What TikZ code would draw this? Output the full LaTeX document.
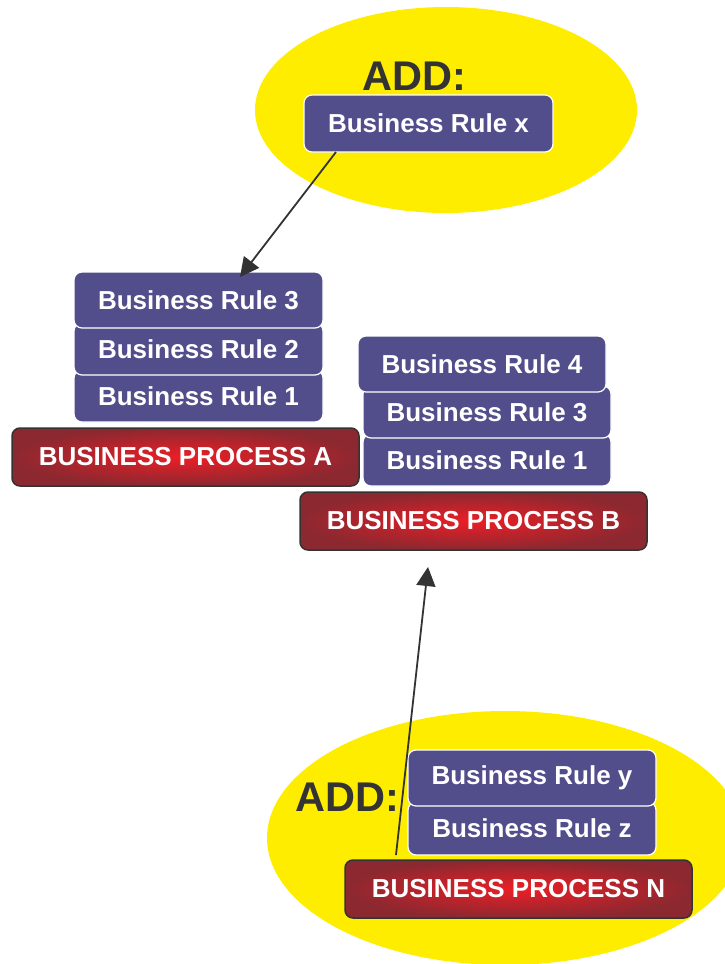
\documentclass[tikz,border=0pt]{standalone}
\usepackage{fontspec}
\setmainfont{Liberation Sans}
\usetikzlibrary{arrows.meta}
\definecolor{ruleblue}{RGB}{82,78,140}
\definecolor{addyellow}{RGB}{255,237,0}
\definecolor{procred}{RGB}{236,30,38}
\definecolor{procdark}{RGB}{140,40,48}
\definecolor{darkgray}{RGB}{51,51,51}
\tikzset{
  rulebox/.style={draw=white, line width=1.2pt, fill=ruleblue, rounded corners=8pt,
    text=white, font=\bfseries\fontsize{26}{28}\selectfont},
  procbox/.style={draw=darkgray, line width=1.5pt, rounded corners=8pt,
    inner color=procred, outer color=procdark,
    text=white, font=\bfseries\fontsize{26}{28}\selectfont},
  addlabel/.style={text=darkgray, font=\bfseries\fontsize{41.5}{44}\selectfont, inner sep=0pt},
  blob/.style={fill=addyellow, draw=none},
  conn/.style={draw=darkgray, line width=1.8pt, -{Triangle[length=19pt,width=19pt]}}
}
\newcommand{\rbox}[6]{% name, x1, y1, x2, y2, text
  \path[rulebox] (#2,#3) rectangle (#4,#5);
  \node[text=white, font=\bfseries\fontsize{26}{28}\selectfont, inner sep=0pt] (#1) at ({(#2+#4)/2},{(#3+#5)/2}) {#6};
}
\newcommand{\pbox}[6]{%
  \path[procbox] (#2,#3) rectangle (#4,#5);
  \node[text=white, font=\bfseries\fontsize{26}{28}\selectfont, inner sep=0pt] (#1) at ({(#2+#4)/2},{(#3+#5)/2}) {#6};
}
\begin{document}
\begin{tikzpicture}[x=1pt,y=-1pt]
\useasboundingbox (0,0) rectangle (725,964);
% yellow ellipses
\path[blob] (446,110) ellipse [x radius=191, y radius=103];
\begin{scope}
\clip (0,0) rectangle (725,964);
\path[blob] (505,838) ellipse [x radius=238, y radius=127];
\end{scope}

% top ADD
\node[addlabel] (addtop) at (414,76) {ADD:};
\rbox{brx}{304}{95}{553}{152}{Business Rule x}

% left stack
\rbox{la1}{74}{370}{323}{422}{Business Rule 1}
\rbox{la2}{74}{323}{323}{375}{Business Rule 2}
\rbox{la3}{74}{272}{323}{328}{Business Rule 3}
\pbox{pa}{12}{428}{359}{486}{BUSINESS PROCESS A}

% right stack
\rbox{rb1}{363}{434}{611}{486}{Business Rule 1}
\rbox{rb3}{363}{386}{611}{438}{Business Rule 3}
\rbox{rb4}{358}{336}{606}{392}{Business Rule 4}
\pbox{pb}{300}{492}{647}{550}{BUSINESS PROCESS B}

% bottom
\node[addlabel] (addbot) at (347,797) {ADD:};
\rbox{bz}{408}{802}{656}{855}{Business Rule z}
\rbox{by}{408}{750}{656}{806}{Business Rule y}
\pbox{pn}{345}{860}{692}{918}{BUSINESS PROCESS N}

% connectors
\coordinate (topstart) at (336,152);
\coordinate (toptip) at (240,277);
\coordinate (botstart) at (396,855);
\coordinate (bottip) at (428,567);
\draw[conn] (topstart) -- (toptip);
\draw[conn] (botstart) -- (bottip);
\end{tikzpicture}
\end{document}
